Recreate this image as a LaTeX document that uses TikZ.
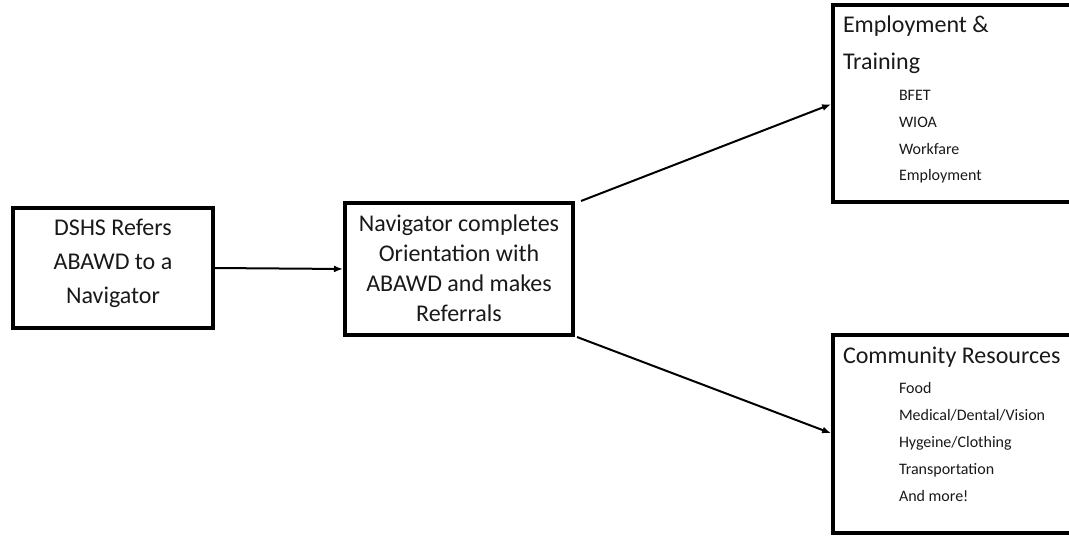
\documentclass[tikz,border=0pt]{standalone}
\usepackage{fontspec}
\setmainfont{Carlito}
\usetikzlibrary{arrows.meta,calc}
\begin{document}
\begin{tikzpicture}[x=1pt,y=-1pt,
  box/.style={draw,line width=4pt,rectangle,inner sep=0pt,outer sep=0pt},
  openbox/.style={rectangle,inner sep=0pt,outer sep=0pt},
  side/.style={line width=4pt},
  arr/.style={line width=2pt,-{Latex[length=9pt,width=7pt]},shorten >=2pt},
  txt/.style={inner sep=0pt,outer sep=0pt,text=black!90}]
\useasboundingbox (0,0) rectangle (1069,537);
% boxes
\node[box,minimum width=200pt,minimum height=120pt] (b1) at (113,268) {};
\node[box,minimum width=228pt,minimum height=132pt] (b2) at (459,269) {};
\node[openbox,minimum width=236pt,minimum height=197pt] (b3) at (951,103.5) {};
\node[openbox,minimum width=236pt,minimum height=198pt] (b4) at (951,434) {};
\draw[side] (b3.north east) -- (b3.north west) -- (b3.south west) -- (b3.south east);
\draw[side] (b4.north east) -- (b4.north west) -- (b4.south west) -- (b4.south east);
% texts
\node[txt,align=center,font=\fontsize{24}{34}\selectfont] (t1) at ($(b1.center)+(0,-5)$) {DSHS Refers\\ABAWD to a\\Navigator};
\node[txt,align=center,font=\fontsize{24}{30}\selectfont] (t2) at ($(b2.center)+(0,-1)$) {Navigator completes\\Orientation with\\ABAWD and makes\\Referrals};
\node[txt,anchor=west,align=left,font=\fontsize{24}{37}\selectfont] (h3) at (843,44.5) {Employment \&\\Training};
\node[txt,anchor=west,align=left,font=\fontsize{16}{26.7}\selectfont] (l3) at (899,137) {BFET\\WIOA\\Workfare\\Employment};
\node[txt,anchor=west,align=left,font=\fontsize{24}{30}\selectfont] (h4) at (843,357) {Community Resources};
\node[txt,anchor=west,align=left,font=\fontsize{16}{27}\selectfont] (l4) at (899,442) {Food\\Medical/Dental/Vision\\Hygeine/Clothing\\Transportation\\And more!};
% connectors
\coordinate (s2) at ($(b2.north east)+(8,-2)$);
\coordinate (s3) at ($(b2.south east)+(4,2)$);
\draw[arr] (b1.east) -- (b2.west);
\draw[arr] (s2) -- (b3.west);
\draw[arr] (s3) -- (b4.west);
\end{tikzpicture}
\end{document}
